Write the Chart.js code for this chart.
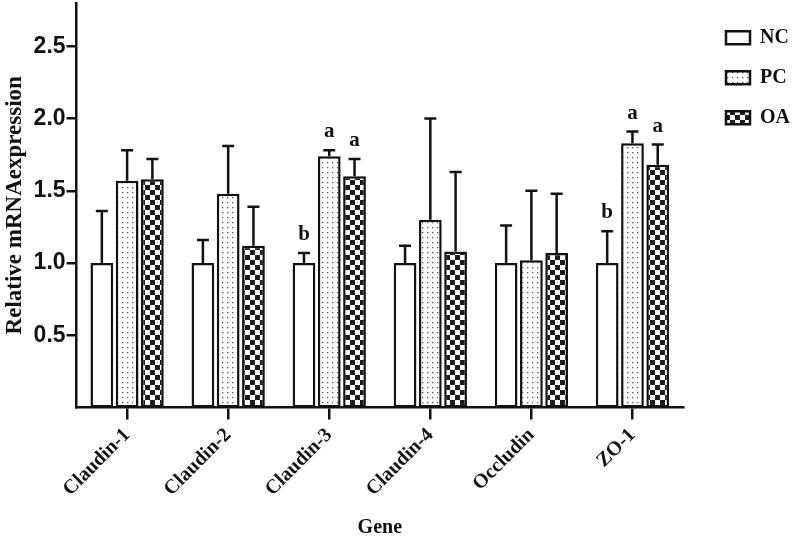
<!DOCTYPE html>
<html>
<head>
<meta charset="utf-8">
<script src="https://cdn.jsdelivr.net/npm/chart.js@4.4.1/dist/chart.umd.min.js"></script>
<style>
  html, body { margin: 0; padding: 0; background: #fff; }
  #wrap { width: 800px; height: 540px; }
</style>
</head>
<body>
<div id="wrap"><canvas id="geneChart" width="800" height="540"></canvas></div>
<script>
// Données
const genes = ['Claudin-1', 'Claudin-2', 'Claudin-3', 'Claudin-4', 'Occludin', 'ZO-1'];
const ncMean = [1.00, 1.00, 1.00, 1.00, 1.00, 1.00];
const pcMean = [1.57, 1.48, 1.74, 1.30, 1.02, 1.83];
const oaMean = [1.58, 1.12, 1.60, 1.08, 1.07, 1.68];
// haut de la barre d'erreur (moyenne + écart)
const ncUpper = [1.36, 1.16, 1.07, 1.12, 1.26, 1.22];
const pcUpper = [1.78, 1.81, 1.78, 2.00, 1.50, 1.91];
const oaUpper = [1.72, 1.39, 1.72, 1.63, 1.48, 1.82];
// lettres de significativité
const ncSig = ['', '', 'b', '', '', 'b'];
const pcSig = ['', '', 'a', '', '', 'a'];
const oaSig = ['', '', 'a', '', '', 'a'];
const yTicks = [0.5, 1.0, 1.5, 2.0, 2.5];

const serif = '"Liberation Serif", "Times New Roman", serif';
const sans = '"Liberation Sans", Arial, sans-serif';

function dotPattern() {
  const c = document.createElement('canvas');
  c.width = 5; c.height = 5;
  const g = c.getContext('2d');
  g.fillStyle = '#fff';
  g.fillRect(0, 0, 5, 5);
  g.fillStyle = '#555';
  g.fillRect(2, 2, 1.3, 1.3);
  return g.createPattern(c, 'repeat');
}

function checkerPattern() {
  const c = document.createElement('canvas');
  c.width = 10; c.height = 10;
  const g = c.getContext('2d');
  g.fillStyle = '#fff';
  g.fillRect(0, 0, 10, 10);
  g.fillStyle = '#1c1c1c';
  g.fillRect(0, 0, 5, 5);
  g.fillRect(5, 5, 5, 5);
  return g.createPattern(c, 'repeat');
}

// barres d'erreur + lettres
const errorBarPlugin = {
  id: 'errorBars',
  afterDatasetsDraw(chart) {
    const ctx = chart.ctx;
    const y = chart.scales.y;
    ctx.save();
    ctx.strokeStyle = '#111';
    ctx.lineWidth = 2.5;
    ctx.fillStyle = '#111';
    ctx.font = 'bold 21px ' + serif;
    ctx.textAlign = 'center';
    ctx.textBaseline = 'alphabetic';
    chart.data.datasets.forEach((ds, i) => {
      const meta = chart.getDatasetMeta(i);
      meta.data.forEach((bar, j) => {
        const top = y.getPixelForValue(ds.upper[j]);
        const base = y.getPixelForValue(ds.data[j]);
        ctx.beginPath();
        ctx.moveTo(bar.x, base);
        ctx.lineTo(bar.x, top);
        ctx.moveTo(bar.x - 6, top);
        ctx.lineTo(bar.x + 6, top);
        ctx.stroke();
        if (ds.sig[j]) ctx.fillText(ds.sig[j], bar.x, top - 13);
      });
    });
    ctx.restore();
  }
};

const ctx = document.getElementById('geneChart').getContext('2d');

const barStyle = {
  borderColor: '#111',
  borderWidth: 2.5,
  borderSkipped: false,
  categoryPercentage: 0.75,
  barPercentage: 0.9
};

new Chart(ctx, {
  type: 'bar',
  data: {
    labels: genes,
    datasets: [
      { label: 'NC', data: ncMean, upper: ncUpper, sig: ncSig, backgroundColor: '#fff', ...barStyle },
      { label: 'PC', data: pcMean, upper: pcUpper, sig: pcSig, backgroundColor: dotPattern(), ...barStyle },
      { label: 'OA', data: oaMean, upper: oaUpper, sig: oaSig, backgroundColor: checkerPattern(), ...barStyle }
    ]
  },
  options: {
    responsive: false,
    animation: false,
    layout: { padding: { left: 0, right: 0, top: 3, bottom: 0 } },
    plugins: {
      tooltip: { enabled: false },
      legend: {
        position: 'right',
        align: 'start',
        title: { display: true, text: '', padding: 0, font: { size: 4 } },
        labels: {
          color: '#111',
          boxWidth: 24,
          boxHeight: 13,
          padding: 20,
          font: { family: serif, size: 20, weight: 'bold' }
        }
      }
    },
    scales: {
      x: {
        grid: { display: true, drawOnChartArea: false, offset: false, color: '#111', lineWidth: 2.5, tickLength: 12 },
        border: { color: '#111', width: 2.5 },
        ticks: {
          color: '#111',
          maxRotation: 45,
          minRotation: 45,
          padding: 4,
          font: { family: serif, size: 20, weight: 'bold' }
        },
        title: {
          display: true,
          text: 'Gene',
          color: '#111',
          padding: { top: 11, bottom: 0 },
          font: { family: serif, size: 20, weight: 'bold' }
        }
      },
      y: {
        min: 0,
        max: 2.8,
        afterBuildTicks: axis => { axis.ticks = yTicks.map(v => ({ value: v })); },
        afterFit: axis => { axis.paddingTop = 0; axis.paddingBottom = 0; },
        grid: { display: true, drawOnChartArea: false, color: '#111', lineWidth: 2.5, tickLength: 10 },
        border: { color: '#111', width: 2.5 },
        ticks: {
          color: '#111',
          padding: 1,
          callback: v => v.toFixed(1),
          font: { family: sans, size: 23, weight: 'bold' }
        },
        title: {
          display: true,
          text: 'Relative mRNAexpression',
          color: '#111',
          padding: { top: 1, bottom: 4 },
          font: { family: serif, size: 23, weight: 'bold' }
        }
      },
      // axe vide à droite : réserve l'espace entre le graphe et la légende
      gap: {
        position: 'right',
        display: true,
        grid: { display: false },
        border: { display: false },
        ticks: { display: false },
        afterFit: axis => { axis.width = 23; }
      }
    }
  },
  plugins: [errorBarPlugin]
});
</script>
</body>
</html>
